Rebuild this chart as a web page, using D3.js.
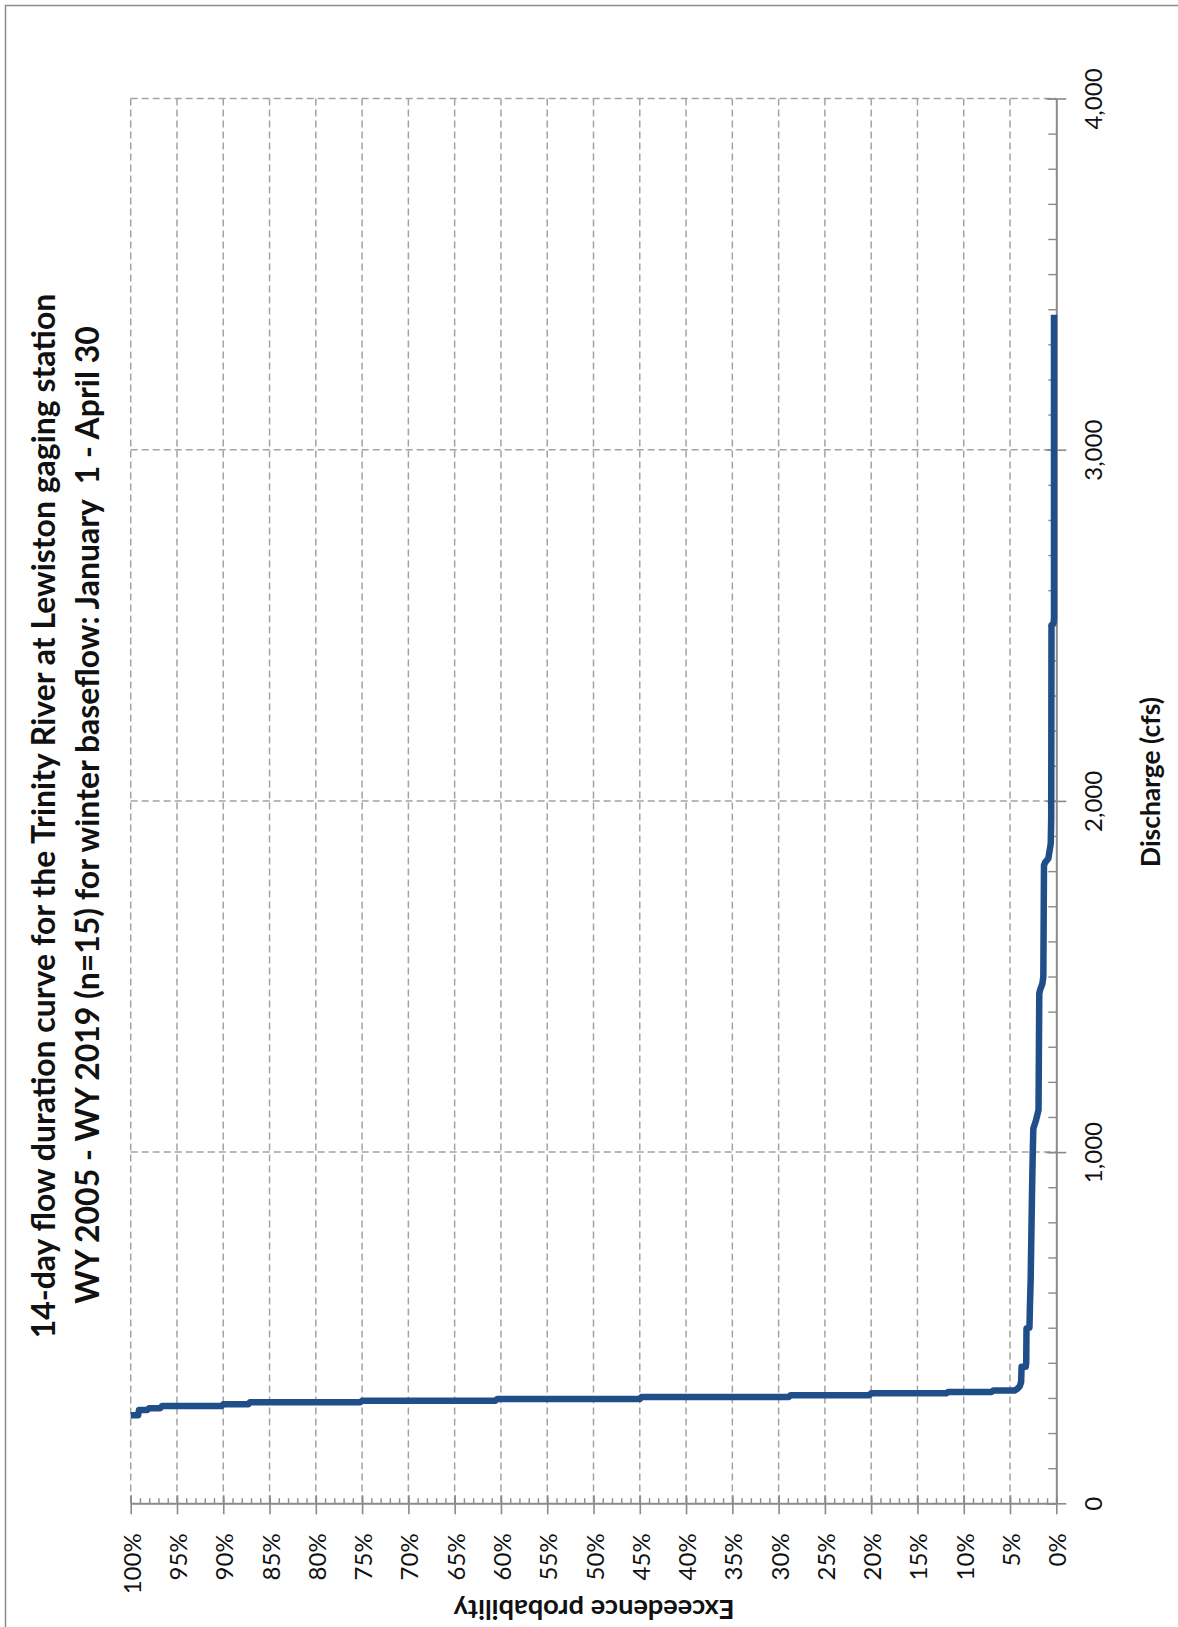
<!DOCTYPE html>
<html>
<head>
<meta charset="utf-8">
<script src="https://cdn.jsdelivr.net/npm/d3@7"></script>
<style>
  html, body { margin: 0; padding: 0; background: #fff; }
  svg { display: block; }
  text { font-family: Lato, "Open Sans", "Liberation Sans", sans-serif; fill: #111; }
</style>
</head>
<body>
<svg id="chart" width="1178" height="1627"></svg>
<script>
// 14-day flow duration curve, Trinity River at Lewiston (winter baseflow).
// The chart is laid out turned a quarter turn: exceedence runs along the bottom
// (100% at left, 0% at right) and discharge rises along the right-hand axis.

const titleLines = [
  "14-day flow duration curve for the Trinity River at Lewiston gaging station",
  "WY 2005 - WY 2019 (n=15) for winter baseflow: January  1 - April 30"
];
const probabilityLabel = "Exceedence probability";
const dischargeLabel = "Discharge (cfs)";

// Tick values for each axis
const probabilityTicks = [100, 95, 90, 85, 80, 75, 70, 65, 60, 55, 50, 45, 40, 35, 30, 25, 20, 15, 10, 5, 0];
const dischargeTicks = [0, 1000, 2000, 3000, 4000];

// Vertices of the duration curve: exceedence probability (%) and discharge (cfs)
const exceedancePct = [
  100, 99.2, 99.1, 98.2, 98.0, 96.8, 96.6, 90.2, 90.0, 87.3, 87.1, 75.2, 75.0,
  60.6, 60.4, 45.0, 44.8, 28.9, 28.7, 20.2, 20.0, 11.9, 11.7, 7.0, 6.8, 4.5,
  4.2, 3.95, 3.8, 3.75, 3.3, 3.25, 3.22, 2.9, 2.85, 2.77, 2.63, 2.55, 2.48,
  2.2, 2.05, 1.92, 1.84, 1.75, 1.5, 1.4, 1.33, 1.2, 0.86, 0.6, 0.55, 0.52,
  0.3, 0.25, 0.25
];
const dischargeCfs = [
  251, 251, 266, 266, 271, 271, 277, 277, 282, 282, 288, 288, 292,
  292, 297, 297, 303, 303, 308, 308, 313, 313, 317, 317, 321, 321,
  326, 333, 345, 389, 389, 400, 498, 500, 560, 636, 873, 990, 1067,
  1090, 1106, 1120, 1451, 1462, 1480, 1500, 1817, 1825, 1836, 1879, 1950, 2500,
  2506, 2520, 3384
];

const svg = d3.select("#chart");

// Chart-area frame
svg.append("rect")
  .attr("x", 5.5).attr("y", 5.5)
  .attr("width", 1400).attr("height", 1800)
  .attr("fill", "none")
  .attr("stroke", "#8c8c8c")
  .attr("stroke-width", 1.5);

// Plot area bounds
const plotLeft = 130.7, plotRight = 1056.3, plotTop = 98.5, plotBottom = 1503.3;

const x = d3.scaleLinear().domain([100, 0]).range([plotLeft, plotRight]);
const y = d3.scaleLinear().domain([0, 4000]).range([plotBottom, plotTop]);

const gridColor = "#a3a3a3";
const axisColor = "#8a8a8a";

// Dashed gridlines
const grid = svg.append("g").attr("class", "grid")
  .attr("stroke", gridColor).attr("stroke-width", 1.5)
  .attr("stroke-dasharray", "7,4");

grid.selectAll("line.v")
  .data(probabilityTicks.filter(d => d > 0))
  .join("line")
  .attr("class", "v")
  .attr("x1", d => x(d)).attr("x2", d => x(d))
  .attr("y1", plotTop).attr("y2", plotBottom);

grid.selectAll("line.h")
  .data(dischargeTicks.filter(d => d > 0))
  .join("line")
  .attr("class", "h")
  .attr("x1", plotLeft).attr("x2", plotRight)
  .attr("y1", d => y(d)).attr("y2", d => y(d));

// Minor ticks (1% and 100 cfs steps, drawn inside the plot)
const minorX = d3.axisBottom(x).tickValues(d3.range(0, 101, 1)).tickSizeInner(-5).tickSizeOuter(0).tickFormat("");
const gMinorX = svg.append("g").attr("transform", `translate(0,${plotBottom})`).call(minorX);
gMinorX.select(".domain").remove();
gMinorX.selectAll("line").attr("stroke", axisColor).attr("stroke-width", 1.4);

const minorY = d3.axisRight(y).tickValues(d3.range(0, 4001, 100)).tickSizeInner(-8).tickSizeOuter(0).tickFormat("");
const gMinorY = svg.append("g").attr("transform", `translate(${plotRight},0)`).call(minorY);
gMinorY.select(".domain").remove();
gMinorY.selectAll("line").attr("stroke", axisColor).attr("stroke-width", 1.4);

// Bottom axis: exceedence probability
const xAxis = d3.axisBottom(x)
  .tickValues(probabilityTicks)
  .tickSizeOuter(0)
  .tickFormat(d => d + "%");
const gx = svg.append("g").attr("transform", `translate(0,${plotBottom})`).call(xAxis);
gx.select(".domain").attr("stroke", axisColor).attr("stroke-width", 2);
gx.selectAll(".tick line")
  .attr("y1", -8).attr("y2", 11)
  .attr("stroke", axisColor).attr("stroke-width", 1.6);
gx.selectAll(".tick text")
  .attr("x", 0).attr("y", 0).attr("dy", null)
  .attr("font-size", 24)
  .attr("fill", "#111")
  .attr("text-anchor", "end")
  .attr("dominant-baseline", "central")
  .attr("transform", "translate(0,30) rotate(-90)");

// Right axis: discharge
const yAxis = d3.axisRight(y)
  .tickValues(dischargeTicks)
  .tickSizeOuter(0)
  .tickFormat(d3.format(","));
const gy = svg.append("g").attr("transform", `translate(${plotRight},0)`).call(yAxis);
gy.select(".domain").attr("stroke", axisColor).attr("stroke-width", 2);
gy.selectAll(".tick line")
  .attr("x1", -10).attr("x2", 10)
  .attr("stroke", axisColor).attr("stroke-width", 1.6);
gy.selectAll(".tick text")
  .attr("x", 0).attr("y", 0).attr("dy", null)
  .attr("font-size", 24)
  .attr("fill", "#111")
  .attr("text-anchor", "middle")
  .attr("dominant-baseline", "central")
  .attr("transform", "translate(36,0) rotate(-90)");

// Duration curve
const points = exceedancePct.map((p, i) => [p, dischargeCfs[i]]);
const line = d3.line().x(d => x(d[0])).y(d => y(d[1]));
svg.append("path")
  .datum(points)
  .attr("d", line)
  .attr("fill", "none")
  .attr("stroke", "#1f4e89")
  .attr("stroke-width", 6.5)
  .attr("stroke-linejoin", "round")
  .attr("stroke-linecap", "butt");

// Scale a text's font size so that it spans a given length
function fitLength(sel, target) {
  const fs = parseFloat(sel.attr("font-size"));
  const len = sel.node().getComputedTextLength();
  const size = fs * target / len;
  sel.attr("font-size", size);
  return size;
}

// Title (two bold lines, reading upward)
const t1 = svg.append("text")
  .attr("font-size", 30).attr("font-weight", "bold")
  .attr("text-anchor", "middle")
  .style("white-space", "pre")
  .attr("transform", "translate(55,816) rotate(-90)")
  .text(titleLines[0]);
const titleSize = fitLength(t1, 1045);
svg.append("text")
  .attr("font-size", titleSize).attr("font-weight", "bold")
  .attr("text-anchor", "middle")
  .style("white-space", "pre")
  .attr("transform", "translate(98.5,815) rotate(-90)")
  .text(titleLines[1]);

// Axis titles
const dl = svg.append("text")
  .attr("font-size", 26).attr("font-weight", "bold")
  .attr("text-anchor", "middle")
  .attr("transform", "translate(1160,782) rotate(-90)")
  .text(dischargeLabel);
fitLength(dl, 170);

const pl = svg.append("text")
  .attr("font-size", 26).attr("font-weight", "bold")
  .attr("text-anchor", "middle")
  .attr("transform", "translate(594,1600) rotate(180)")
  .text(probabilityLabel);
fitLength(pl, 281);
</script>
</body>
</html>
